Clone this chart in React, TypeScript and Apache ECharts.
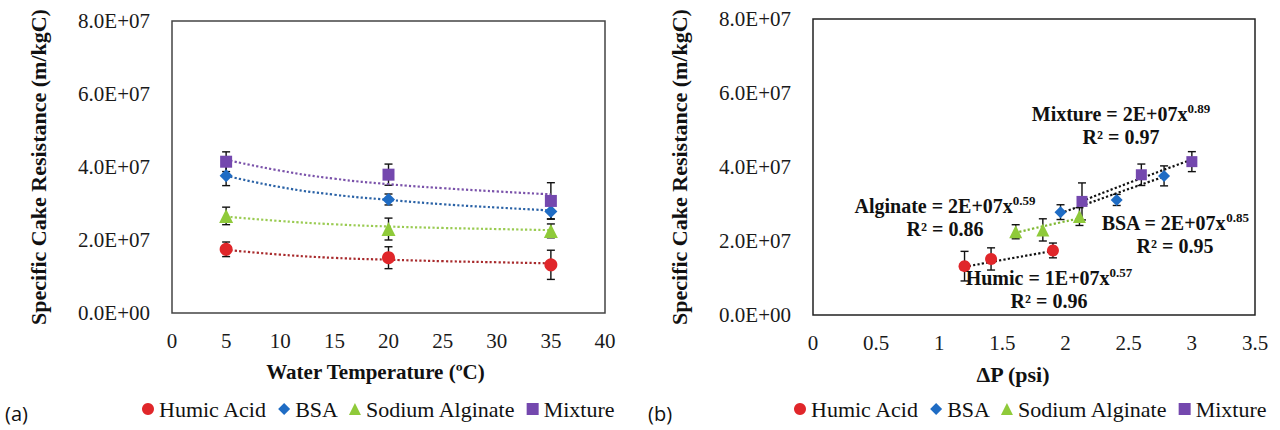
import React, { useEffect, useRef } from "react";
import * as echarts from "echarts";

// ---------- data ----------
const seriesNames = ["Humic Acid", "BSA", "Sodium Alginate", "Mixture"];

// Panel (a): water temperature (ºC)
const temperatures = [5, 20, 35];
const humicValues = [1.745e7, 1.515e7, 1.32e7];
const bsaValues = [3.76e7, 3.11e7, 2.78e7];
const alginateValues = [2.66e7, 2.3e7, 2.25e7];
const mixtureValues = [4.145e7, 3.79e7, 3.07e7];

const humicErrors = [0.2e7, 0.3e7, 0.4e7];
const bsaErrors = [0.27e7, 0.15e7, 0.2e7];
const alginateErrors = [0.24e7, 0.3e7, 0.19e7];
const mixtureErrors = [0.27e7, 0.29e7, 0.5e7];

// Panel (a) trendlines
const trendTemperatures = [5, 10, 15, 20, 25, 30, 35];
const humicTrendA = [1.73e7, 1.6e7, 1.51e7, 1.46e7, 1.42e7, 1.39e7, 1.36e7];
const bsaTrendA = [3.76e7, 3.45e7, 3.24e7, 3.1e7, 2.98e7, 2.89e7, 2.81e7];
const alginateTrendA = [2.64e7, 2.52e7, 2.43e7, 2.37e7, 2.33e7, 2.3e7, 2.27e7];
const mixtureTrendA = [4.2e7, 3.9e7, 3.68e7, 3.53e7, 3.42e7, 3.33e7, 3.25e7];

// Panel (b): ΔP (psi) for the same runs (5, 20, 35 ºC)
const humicDeltaP = [1.9, 1.41, 1.2];
const bsaDeltaP = [2.78, 2.405, 1.96];
const alginateDeltaP = [2.11, 1.82, 1.605];
const mixtureDeltaP = [3.0, 2.6, 2.13];

// Panel (b) power trendlines
const humicTrendB = [[1.2, 1.3e7], [1.55, 1.52e7], [1.9, 1.73e7]];
const alginateTrendB = [[1.6, 2.22e7], [1.85, 2.42e7], [2.11, 2.61e7]];
const bsaTrendB = [[1.96, 2.75e7], [2.37, 3.25e7], [2.78, 3.74e7]];
const mixtureTrendB = [[2.13, 3.08e7], [2.57, 3.66e7], [3.0, 4.2e7]];

const equationLabels = [
  { name: "Mixture", coef: "2E+07", exp: "0.89", r2: "0.97" },
  { name: "Alginate", coef: "2E+07", exp: "0.59", r2: "0.86" },
  { name: "BSA", coef: "2E+07", exp: "0.85", r2: "0.95" },
  { name: "Humic", coef: "1E+07", exp: "0.57", r2: "0.96" },
];

const xTicksA = { min: 0, max: 40, interval: 5 };
const xTicksB = { min: 0, max: 3.5, interval: 0.5 };
const yTicks = { min: 0, max: 8e7, interval: 2e7 };

// ---------- styles ----------
const COLORS = ["#e0262a", "#1f6cc4", "#8fca3a", "#7448ae"];
const TREND_A_COLORS = ["#a82a2c", "#2a62a6", "#9acb52", "#7a52aa"];
const TREND_B_COLORS = ["#111111", "#111111", "#7fb832", "#111111"];
const SYMBOLS = ["circle", "diamond", "triangle", "rect"];
const SYMBOL_SIZES = [13, 13, 14, 12];
const SERIF = "Liberation Serif";

const zip = (xs: number[], ys: number[]) => xs.map((x, i) => [x, ys[i]]);
const zip3 = (xs: number[], ys: number[], es: number[]) => xs.map((x, i) => [x, ys[i], es[i]]);

const fmtSci = (v: number) => {
  const s = v.toExponential(1); // e.g. 8.0e+7
  const [m, e] = s.split("e");
  const sign = e[0] === "-" ? "-" : "+";
  const digits = e.replace(/[+-]/, "").padStart(2, "0");
  return `${m}E${sign}${digits}`;
};

const errorBarRender = (params: any, api: any) => {
  const x = api.value(0);
  const y = api.value(1);
  const e = api.value(2);
  const hi = api.coord([x, y + e]);
  const lo = api.coord([x, y - e]);
  const w = 4;
  const style = { stroke: "#111", lineWidth: 1.4 };
  return {
    type: "group",
    children: [
      { type: "line", shape: { x1: hi[0], y1: hi[1], x2: lo[0], y2: lo[1] }, style },
      { type: "line", shape: { x1: hi[0] - w, y1: hi[1], x2: hi[0] + w, y2: hi[1] }, style },
      { type: "line", shape: { x1: lo[0] - w, y1: lo[1], x2: lo[0] + w, y2: lo[1] }, style },
    ],
  };
};

function buildOption() {
  const valuesA = [humicValues, bsaValues, alginateValues, mixtureValues];
  const errorsA = [humicErrors, bsaErrors, alginateErrors, mixtureErrors];
  const trendsA = [humicTrendA, bsaTrendA, alginateTrendA, mixtureTrendA];
  const deltaPs = [humicDeltaP, bsaDeltaP, alginateDeltaP, mixtureDeltaP];
  const trendsB = [humicTrendB, bsaTrendB, alginateTrendB, mixtureTrendB];

  const series: any[] = [];
  seriesNames.forEach((name, i) => {
    // panel (a)
    series.push({
      type: "custom", name: name + " error (a)", xAxisIndex: 0, yAxisIndex: 0,
      renderItem: errorBarRender, data: zip3(temperatures, valuesA[i], errorsA[i]),
      encode: { x: 0, y: 1 }, z: 1, silent: true,
    });
    series.push({
      type: "line", name: name + " trend (a)", xAxisIndex: 0, yAxisIndex: 0,
      data: zip(trendTemperatures, trendsA[i]), smooth: true, symbol: "none", showSymbol: false,
      lineStyle: { type: "dotted", width: 2.2, color: TREND_A_COLORS[i] }, z: 2, silent: true,
    });
    series.push({
      type: "scatter", name, xAxisIndex: 0, yAxisIndex: 0,
      symbol: SYMBOLS[i], symbolSize: SYMBOL_SIZES[i],
      itemStyle: { color: COLORS[i], opacity: 1 },
      data: zip(temperatures, valuesA[i]), z: 3,
    });
    // panel (b)
    series.push({
      type: "custom", name: name + " error (b)", xAxisIndex: 1, yAxisIndex: 1,
      renderItem: errorBarRender, data: zip3(deltaPs[i], valuesA[i], errorsA[i]),
      encode: { x: 0, y: 1 }, z: 1, silent: true,
    });
    series.push({
      type: "line", name: name + " trend (b)", xAxisIndex: 1, yAxisIndex: 1,
      data: trendsB[i], smooth: true, symbol: "none", showSymbol: false,
      lineStyle: { type: "dotted", width: 2.2, color: TREND_B_COLORS[i] }, z: 2, silent: true,
    });
    series.push({
      type: "scatter", name, xAxisIndex: 1, yAxisIndex: 1,
      symbol: SYMBOLS[i], symbolSize: SYMBOL_SIZES[i] - 1,
      itemStyle: { color: COLORS[i], opacity: 1 },
      data: zip(deltaPs[i], valuesA[i]), z: 3,
    });
  });

  const axisLabelStyle = { fontFamily: SERIF, fontSize: 21, color: "#1a1a1a" };
  const nameStyle = { fontFamily: SERIF, fontSize: 22, fontWeight: "bold", color: "#111" };

  const makeY = (gridIndex: number) => ({
    type: "value", gridIndex, ...yTicks,
    name: "Specific Cake Resistance (m/kgC)", nameLocation: "middle", nameRotate: 90, nameGap: 123,
    nameTextStyle: nameStyle,
    axisLine: { show: false }, axisTick: { show: false }, splitLine: { show: false },
    axisLabel: { ...axisLabelStyle, margin: 22, formatter: (v: number) => fmtSci(v) },
  });

  const labelPositions = [
    { x: 1121, y: 125 },
    { x: 945, y: 217 },
    { x: 1175, y: 234 },
    { x: 1049, y: 289 },
  ];

  const graphic: any[] = equationLabels.map((l, i) => ({
    type: "text",
    x: labelPositions[i].x,
    y: labelPositions[i].y,
    z: 10,
    silent: true,
    style: {
      text: `{m|${l.name} = ${l.coef}x}{s|${l.exp}}\n{m|R² = ${l.r2}}`,
      align: "center",
      verticalAlign: "middle",
      rich: {
        m: { fontFamily: SERIF, fontSize: 20, fontWeight: "bold", fill: "#111", lineHeight: 23 },
        s: { fontFamily: SERIF, fontSize: 13, fontWeight: "bold", fill: "#111", lineHeight: 13, verticalAlign: "top" },
      },
    },
  }));
  graphic.push(
    { type: "text", x: 5, y: 413, style: { text: "(a)", fontFamily: "Open Sans", fontSize: 20, fill: "#111", verticalAlign: "middle" } },
    { type: "text", x: 648, y: 413, style: { text: "(b)", fontFamily: "Open Sans", fontSize: 20, fill: "#111", verticalAlign: "middle" } }
  );

  const legendBase = {
    data: seriesNames,
    orient: "horizontal",
    itemWidth: 12, itemHeight: 12, itemGap: 11,
    textStyle: { fontFamily: SERIF, fontSize: 22, color: "#111" },
    selectedMode: false,
  };

  return {
    animation: false,
    backgroundColor: "#ffffff",
    textStyle: { fontFamily: SERIF },
    grid: [
      { left: 172, top: 21, width: 433, height: 292, show: true, borderColor: "#444", borderWidth: 1.5, backgroundColor: "transparent" },
      { left: 813, top: 19, width: 442, height: 296, show: true, borderColor: "#222", borderWidth: 1.5, backgroundColor: "transparent" },
    ],
    xAxis: [
      {
        type: "value", gridIndex: 0, ...xTicksA,
        name: "Water Temperature (ºC)", nameLocation: "middle", nameGap: 48,
        nameTextStyle: { ...nameStyle, fontSize: 21, padding: [0, 26, 0, 0] },
        axisLine: { show: false }, axisTick: { show: false }, splitLine: { show: false },
        axisLabel: { ...axisLabelStyle, margin: 17 },
      },
      {
        type: "value", gridIndex: 1, ...xTicksB,
        name: "ΔP (psi)", nameLocation: "middle", nameGap: 48,
        nameTextStyle: { ...nameStyle, padding: [0, 42, 0, 0] },
        axisLine: { show: false }, axisTick: { show: false }, splitLine: { show: false },
        axisLabel: { ...axisLabelStyle, margin: 17 },
      },
    ],
    yAxis: [makeY(0), makeY(1)],
    legend: [
      { ...legendBase, left: 137, top: 393 },
      { ...legendBase, left: 789, top: 393 },
    ],
    graphic,
    series,
  };
}

export default function App() {
  const ref = useRef<HTMLDivElement>(null);
  useEffect(() => {
    if (!ref.current) return;
    const chart = echarts.init(ref.current, null, { renderer: "svg" });
    chart.setOption(buildOption() as any);
    return () => chart.dispose();
  }, []);
  return (
    <div
      ref={ref}
      style={{ position: "absolute", left: 0, top: 0, width: 1280, height: 430, background: "#fff" }}
    />
  );
}
